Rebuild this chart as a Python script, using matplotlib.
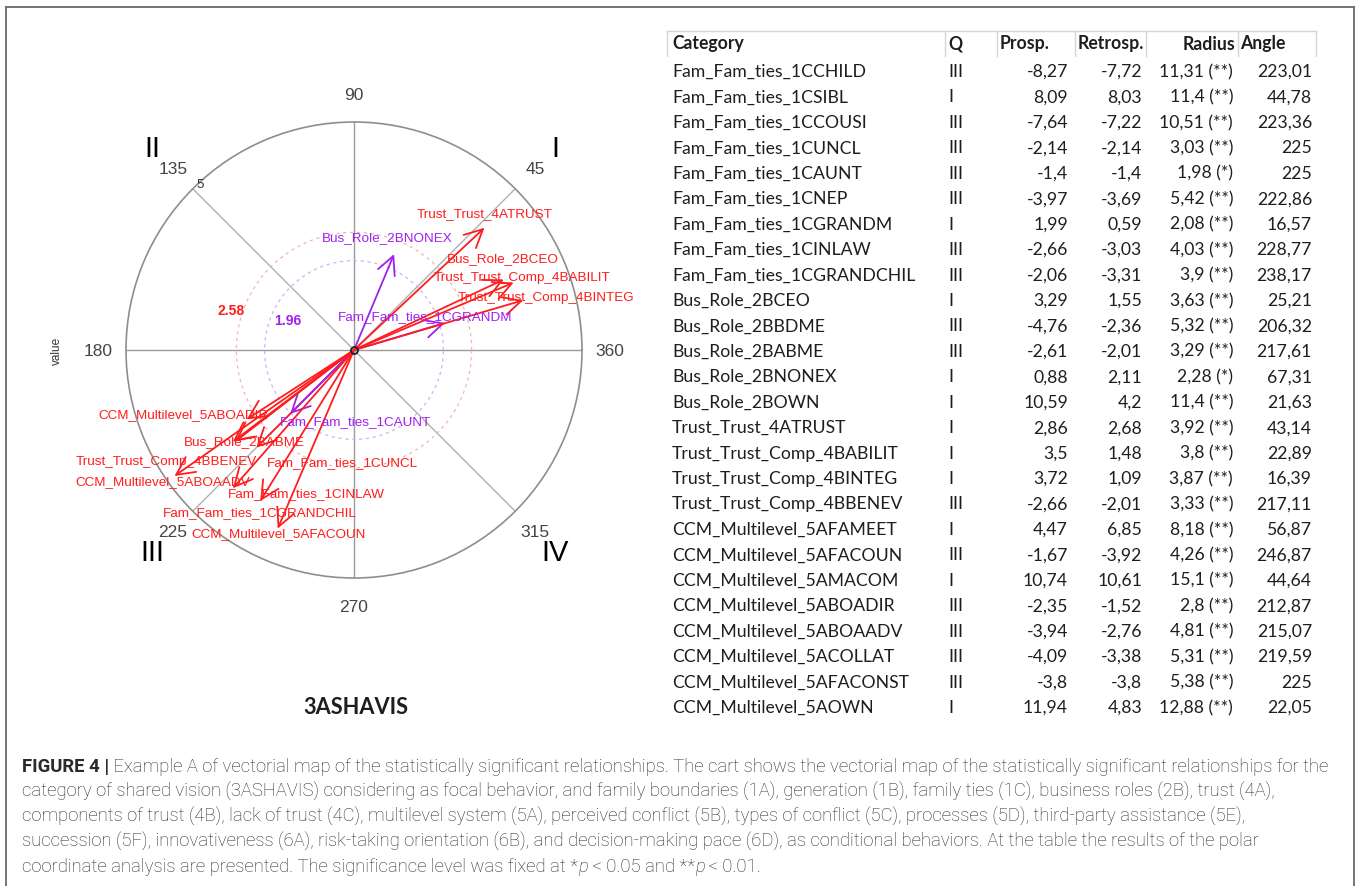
"""
plot.py – vectorial map of the polar coordinate analysis (focal behaviour 3ASHAVIS),
results table and figure caption.
"""
import numpy as np
import matplotlib
matplotlib.use("Agg")
import matplotlib.pyplot as plt
from matplotlib.lines import Line2D


# ── Table data ───────────────────────────────────────────────────────────────
categories = [
    "Fam_Fam_ties_1CCHILD", "Fam_Fam_ties_1CSIBL", "Fam_Fam_ties_1CCOUSI",
    "Fam_Fam_ties_1CUNCL", "Fam_Fam_ties_1CAUNT", "Fam_Fam_ties_1CNEP",
    "Fam_Fam_ties_1CGRANDM", "Fam_Fam_ties_1CINLAW", "Fam_Fam_ties_1CGRANDCHIL",
    "Bus_Role_2BCEO", "Bus_Role_2BBDME", "Bus_Role_2BABME", "Bus_Role_2BNONEX",
    "Bus_Role_2BOWN", "Trust_Trust_4ATRUST", "Trust_Trust_Comp_4BABILIT",
    "Trust_Trust_Comp_4BINTEG", "Trust_Trust_Comp_4BBENEV",
    "CCM_Multilevel_5AFAMEET", "CCM_Multilevel_5AFACOUN", "CCM_Multilevel_5AMACOM",
    "CCM_Multilevel_5ABOADIR", "CCM_Multilevel_5ABOAADV", "CCM_Multilevel_5ACOLLAT",
    "CCM_Multilevel_5AFACONST", "CCM_Multilevel_5AOWN",
]
quadrant = ["III", "I", "III", "III", "III", "III", "I", "III", "III",
            "I", "III", "III", "I", "I", "I", "I", "I", "III",
            "I", "III", "I", "III", "III", "III", "III", "I"]
prosp = [-8.27, 8.09, -7.64, -2.14, -1.4, -3.97, 1.99, -2.66, -2.06,
         3.29, -4.76, -2.61, 0.88, 10.59, 2.86, 3.5, 3.72, -2.66,
         4.47, -1.67, 10.74, -2.35, -3.94, -4.09, -3.8, 11.94]
retrosp = [-7.72, 8.03, -7.22, -2.14, -1.4, -3.69, 0.59, -3.03, -3.31,
           1.55, -2.36, -2.01, 2.11, 4.2, 2.68, 1.48, 1.09, -2.01,
           6.85, -3.92, 10.61, -1.52, -2.76, -3.38, -3.8, 4.83]
radius = [11.31, 11.4, 10.51, 3.03, 1.98, 5.42, 2.08, 4.03, 3.9,
          3.63, 5.32, 3.29, 2.28, 11.4, 3.92, 3.8, 3.87, 3.33,
          8.18, 4.26, 15.1, 2.8, 4.81, 5.31, 5.38, 12.88]
signif = ["**", "**", "**", "**", "*", "**", "**", "**", "**",
          "**", "**", "**", "*", "**", "**", "**", "**", "**",
          "**", "**", "**", "**", "**", "**", "**", "**"]
angle = [223.01, 44.78, 223.36, 225, 225, 222.86, 16.57, 228.77, 238.17,
         25.21, 206.32, 217.61, 67.31, 21.63, 43.14, 22.89, 16.39, 217.11,
         56.87, 246.87, 44.64, 212.87, 215.07, 219.59, 225, 22.05]

header = ["Category", "Q", "Prosp.", "Retrosp.", "Radius", "Angle"]

# significance circles (z for p<.05 and p<.01) and the plotted radius range
z_levels = [1.96, 2.58]
r_max = 5

axis_angles = [0, 45, 90, 135, 180, 225, 270, 315]
axis_labels = ["360", "45", "90", "135", "180", "225", "270", "315"]
quadrant_angles = [45, 135, 225, 315]
quadrant_names = ["I", "II", "III", "IV"]

focal = "3ASHAVIS"

caption = [
    [("FIGURE 4 |", "bold", "normal"),
     (" Example A of vectorial map of the statistically significant relationships. "
      "The cart shows the vectorial map of the statistically significant relationships for the",
      "light", "normal")],
    [("category of shared vision (3ASHAVIS) considering as focal behavior, and family "
      "boundaries (1A), generation (1B), family ties (1C), business roles (2B), trust (4A),",
      "light", "normal")],
    [("components of trust (4B), lack of trust (4C), multilevel system (5A), perceived "
      "conflict (5B), types of conflict (5C), processes (5D), third-party assistance (5E),",
      "light", "normal")],
    [("succession (5F), innovativeness (6A), risk-taking orientation (6B), and "
      "decision-making pace (6D), as conditional behaviors. At the table the results of the polar",
      "light", "normal")],
    [("coordinate analysis are presented. The significance level was fixed at *", "light", "normal"),
     ("p", "light", "italic"),
     (" < 0.05 and **", "light", "normal"),
     ("p", "light", "italic"),
     (" < 0.01.", "light", "normal")],
]

# ── Style ────────────────────────────────────────────────────────────────────
W, H = 1357, 887
_RED = "#ff1c1c"
_PURPLE = "#a020f0"
_GRID = "#9a9a9a"
_TEXT = "#1e1e1e"
_CELL = "#d6d6d6"
R_FONT = "Liberation Sans"
TABLE_FONT = "Lato"
CAP_FONT = "Roboto"

# label offsets from the arrow tip, in pixels (x right, y up)
LABEL_OFFSET = {
    "Trust_Trust_4ATRUST": (0, 15),
    "Bus_Role_2BNONEX": (-7, 17),
    "Bus_Role_2BCEO": (-1, 21),
    "Trust_Trust_Comp_4BABILIT": (8, 6),
    "Trust_Trust_Comp_4BINTEG": (23, 3),
    "Fam_Fam_ties_1CGRANDM": (-20, 7),
    "Fam_Fam_ties_1CAUNT": (65, -7),
    "CCM_Multilevel_5ABOADIR": (-63, 5),
    "Bus_Role_2BABME": (9, 0),
    "Trust_Trust_Comp_4BBENEV": (-67, -19),
    "Fam_Fam_ties_1CUNCL": (86, -14),
    "CCM_Multilevel_5ABOAADV": (-12, -5),
    "Fam_Fam_ties_1CINLAW": (73, -5),
    "Fam_Fam_ties_1CGRANDCHIL": (0, -11),
    "CCM_Multilevel_5AFACOUN": (1, -4),
}

fig = plt.figure(figsize=(W / 100, H / 100), dpi=100)
fig.patch.set_facecolor("white")
renderer = fig.canvas.get_renderer()


def fx(x):
    return x / W


def fy(y):
    return 1 - y / H


def measure(s, size, family, weight="normal", style="normal"):
    t = fig.text(0, 0, s, fontsize=size, family=family,
                 fontweight=weight, fontstyle=style)
    w = t.get_window_extent(renderer).width
    t.remove()
    return w


def advance(s, size, family, weight="normal", style="normal"):
    # bracket with bars so leading/trailing spaces are counted
    return (measure("|" + s + "|", size, family, weight, style)
            - measure("||", size, family, weight, style))


def hline(x0, x1, y, **kw):
    fig.add_artist(Line2D([fx(x0), fx(x1)], [fy(y), fy(y)],
                          transform=fig.transFigure, **kw))


def vline(x, y0, y1, **kw):
    fig.add_artist(Line2D([fx(x), fx(x)], [fy(y0), fy(y1)],
                          transform=fig.transFigure, **kw))


# ── Outer frame ──────────────────────────────────────────────────────────────
frame = dict(color="#6a6a6a", lw=1.3)
hline(6, 1354, 8, **frame)
vline(6, 8, 887, **frame)
vline(1354, 8, 887, **frame)

# ── Polar vector map ─────────────────────────────────────────────────────────
cx, cy, rad_px = 354, 351, 228
ax = fig.add_axes([fx(cx - rad_px), fy(cy + rad_px), 2 * rad_px / W, 2 * rad_px / H],
                  projection="polar")
ax.set_ylim(0, r_max)
ax.set_xticks([])
ax.set_yticks([])
ax.grid(False)
ax.spines["polar"].set_edgecolor("#8e8e8e")
ax.spines["polar"].set_linewidth(1.2)

for a in axis_angles:
    th = np.deg2rad(a)
    ax.plot([th, th], [0, r_max], color=_GRID if a % 90 == 0 else "#b0b0b0",
            lw=1.0, zorder=1)

theta = np.linspace(0, 2 * np.pi, 400)
ax.plot(theta, np.full_like(theta, z_levels[0]), color="#cfb0f4",
        lw=0.9, ls=(0, (2.5, 3)), zorder=1)
ax.plot(theta, np.full_like(theta, z_levels[1]), color="#f4b2b2",
        lw=0.9, ls=(0, (2.5, 3)), zorder=1)

ax.annotate(f"{z_levels[0]:.2f}", xy=(np.pi, z_levels[0]), xytext=(23, 30),
            textcoords="offset pixels", ha="center", va="center",
            color=_PURPLE, fontsize=10, fontweight="bold", family=R_FONT)
ax.annotate(f"{z_levels[1]:.2f}", xy=(np.pi, z_levels[1]), xytext=(-5, 40),
            textcoords="offset pixels", ha="center", va="center",
            color=_RED, fontsize=10, fontweight="bold", family=R_FONT)

# angle labels and quadrant numerals outside the circle
for a, lab in zip(axis_angles, axis_labels):
    th = np.deg2rad(a)
    ax.annotate(lab, xy=(th, r_max), xytext=(28 * np.cos(th), 28 * np.sin(th)),
                textcoords="offset pixels", ha="center", va="center",
                color="#454545", fontsize=12.5, family=R_FONT, annotation_clip=False)
for a, lab in zip(quadrant_angles, quadrant_names):
    th = np.deg2rad(a)
    ax.annotate(lab, xy=(th, r_max), xytext=(57 * np.cos(th), 57 * np.sin(th)),
                textcoords="offset pixels", ha="center", va="center",
                color="black", fontsize=21, family=R_FONT, annotation_clip=False)
ax.annotate(f"{r_max}", xy=(np.deg2rad(135), r_max), xytext=(7, 5),
            textcoords="offset pixels", ha="center", va="center",
            color="#333333", fontsize=9.5, family=R_FONT, annotation_clip=False)

# vectors (only those inside the plotted range)
for name, r, a in zip(categories, radius, angle):
    if r > r_max:
        continue
    th = np.deg2rad(a)
    col = _PURPLE if r < z_levels[1] else _RED
    ax.annotate("", xy=(th, r), xytext=(0, 0),
                arrowprops=dict(arrowstyle="->,head_length=1.0,head_width=0.5",
                                color=col, lw=1.3, shrinkA=0, shrinkB=0,
                                mutation_scale=13), zorder=3)
    dx, dy = LABEL_OFFSET.get(name, (0, 12))
    ax.annotate(name, xy=(th, r), xytext=(dx, dy), textcoords="offset pixels",
                ha="center", va="center", color=col, fontsize=9.7,
                family=R_FONT, zorder=4, annotation_clip=False)

ax.plot(0, 0, "o", mfc="none", mec="#222222", ms=5, mew=1.3, zorder=5)

fig.text(fx(57), fy(351), "value", rotation=90, ha="center", va="center",
         fontsize=8.5, color="#333333", family=R_FONT)

fs_focal = 10 * 105 / measure(focal, 10, TABLE_FONT, "bold")
fig.text(fx(356), fy(707), focal, ha="center", va="center",
         fontsize=fs_focal, fontweight="bold", family=TABLE_FONT, color=_TEXT)

# ── Results table ────────────────────────────────────────────────────────────
fs_tab = 10 * 192 / measure(categories[0], 10, TABLE_FONT)
cell_x = [667, 945, 997, 1075, 1146, 1238, 1316]
hline(cell_x[0], cell_x[-1], 32, color=_CELL, lw=1.0)
for x in cell_x:
    vline(x, 32, 57, color=_CELL, lw=1.0)

head_pos = [(672, "left"), (948, "left"), (1000, "left"),
            (1078, "left"), (1235, "right"), (1240, "left")]
for lab, (x, ha) in zip(header, head_pos):
    fig.text(fx(x), fy(44), lab, ha=ha, va="center", fontsize=fs_tab,
             fontweight="bold", family=TABLE_FONT, color=_TEXT)


def fmt(v):
    return f"{v:g}".replace(".", ",")


row_y0, row_dy = 72, 25.44
for i, name in enumerate(categories):
    y = fy(row_y0 + i * row_dy)
    cells = [(672, "left", name), (948, "left", quadrant[i]),
             (1068, "right", fmt(prosp[i])), (1142, "right", fmt(retrosp[i])),
             (1233, "right", f"{fmt(radius[i])} ({signif[i]})"),
             (1312, "right", fmt(angle[i]))]
    for x, ha, s in cells:
        fig.text(fx(x), y, s, ha=ha, va="center", fontsize=fs_tab,
                 family=TABLE_FONT, color=_TEXT)

# ── Caption ──────────────────────────────────────────────────────────────────
w1 = sum(advance(s, 10, CAP_FONT, wt, st) for s, wt, st in caption[0])
fs_cap = 10 * 1313 / w1
cap_x0, cap_y0, cap_dy = 22, 767, 25
for k, runs in enumerate(caption):
    x = cap_x0
    for s, wt, st in runs:
        fig.text(fx(x), fy(cap_y0 + k * cap_dy), s, ha="left", va="center",
                 fontsize=fs_cap, fontweight=wt, fontstyle=st,
                 family=CAP_FONT, color="#2a2a2a")
        x += advance(s, fs_cap, CAP_FONT, wt, st)

fig.savefig("out.png", dpi=100, facecolor="white")
